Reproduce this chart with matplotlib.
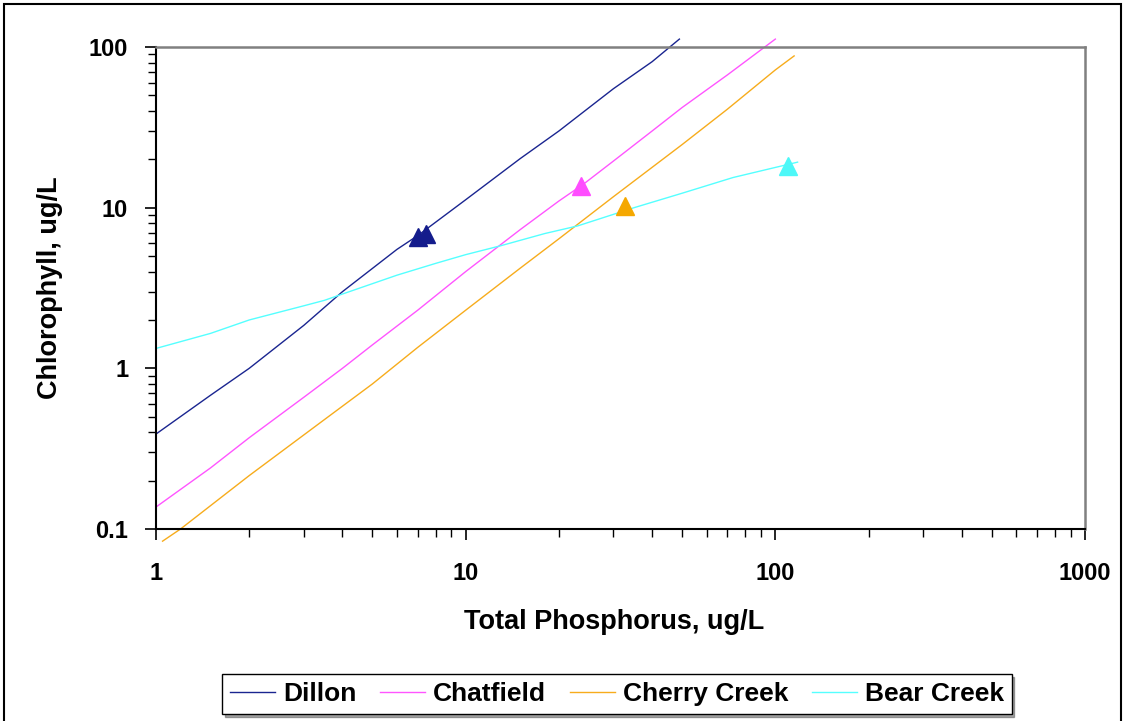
import matplotlib
matplotlib.use("Agg")
import matplotlib.pyplot as plt
from matplotlib.patches import Rectangle
from matplotlib.ticker import LogLocator, NullFormatter, FixedFormatter, FixedLocator

plt.rcParams['font.family'] = ['Liberation Sans', 'DejaVu Sans']
plt.rcParams['font.weight'] = 'bold'

# values (TP ug/L -> Chl ug/L)
dillon_tp = [1, 1.5, 2, 3, 4, 6, 7, 10, 15, 20, 30, 40, 49]
dillon_chl = [0.39, 0.68, 1.0, 1.85, 3.0, 5.5, 6.7, 11.2, 20.2, 30, 55, 81, 112]

chat_tp = [1, 1.5, 2, 3, 4, 5, 7, 10, 15, 20, 24, 30, 40, 50, 70, 100]
chat_chl = [0.137, 0.24, 0.37, 0.66, 1.0, 1.4, 2.3, 4.0, 7.3, 11, 14, 19.5, 30, 42, 67, 112]

cherry_tp = [1.05, 1.2, 2, 3.5, 5, 7, 10, 15, 20, 30, 50, 70, 100, 115]
cherry_chl = [0.084, 0.10, 0.215, 0.48, 0.80, 1.35, 2.3, 4.2, 6.4, 11.7, 24.7, 41, 72, 88]

bear_tp = [1, 1.5, 2, 3, 3.5, 4, 6, 8, 10, 13, 18, 23, 35, 50, 73, 100, 118]
bear_chl = [1.33, 1.65, 2.0, 2.45, 2.65, 2.9, 3.8, 4.5, 5.1, 5.8, 6.9, 7.7, 10, 12.3, 15.4, 17.8, 19.2]

# observed lake means (triangles)
dillon_obs_tp = [7.0, 7.45]
dillon_obs_chl = [6.6, 6.9]
chat_obs_tp = [23.6]
chat_obs_chl = [13.7]
cherry_obs_tp = [32.6]
cherry_obs_chl = [10.3]
bear_obs_tp = [110]
bear_obs_chl = [18.2]

names = ["Dillon", "Chatfield", "Cherry Creek", "Bear Creek"]
line_colors = ["#1a2590", "#ff55ff", "#f7ac1c", "#55ffff"]
marker_colors = ["#141c8c", "#ff4dff", "#f5a800", "#4df8f8"]

fig = plt.figure(figsize=(11.28, 7.21), dpi=100)
ax = fig.add_axes([156 / 1128, 1 - 529 / 721, 929 / 1128, 482 / 721])

series = [(dillon_tp, dillon_chl, dillon_obs_tp, dillon_obs_chl),
          (chat_tp, chat_chl, chat_obs_tp, chat_obs_chl),
          (cherry_tp, cherry_chl, cherry_obs_tp, cherry_obs_chl),
          (bear_tp, bear_chl, bear_obs_tp, bear_obs_chl)]

handles = []
for (tp, chl, otp, ochl), name, lc in zip(series, names, line_colors):
    h, = ax.plot(tp, chl, color=lc, lw=1.0, label=name, clip_on=False)
    handles.append(h)
for (tp, chl, otp, ochl), mc in zip(series, marker_colors):
    ax.plot(otp, ochl, linestyle="none", marker="^", ms=13, color=mc,
            markeredgecolor=mc, clip_on=False, zorder=5)

ax.set_xscale("log")
ax.set_yscale("log")
ax.set_xlim(1, 1000)
ax.set_ylim(0.1, 100)

ax.xaxis.set_major_locator(FixedLocator([1, 10, 100, 1000]))
ax.xaxis.set_major_formatter(FixedFormatter(["1", "10", "100", "1000"]))
ax.yaxis.set_major_locator(FixedLocator([0.1, 1, 10, 100]))
ax.yaxis.set_major_formatter(FixedFormatter(["0.1", "1", "10", "100"]))
for axis in (ax.xaxis, ax.yaxis):
    axis.set_minor_locator(LogLocator(base=10, subs=range(2, 10), numticks=20))
    axis.set_minor_formatter(NullFormatter())

ax.tick_params(which="major", direction="out", length=8, width=1.2, labelsize=17)
ax.tick_params(which="minor", direction="out", length=6, width=1.0)
ax.tick_params(axis="x", which="major", pad=16)
ax.tick_params(axis="y", which="major", pad=12)

for s in ("left", "bottom"):
    ax.spines[s].set_color("black")
    ax.spines[s].set_linewidth(1.5)
for s in ("top", "right"):
    ax.spines[s].set_color("#808080")
    ax.spines[s].set_linewidth(1.8)

fig.text(614 / 1128, 1 - 622 / 721, "Total Phosphorus, ug/L", ha="center", va="center",
         fontsize=19.5, fontweight="bold")
fig.text(50 / 1128, 1 - 288 / 721, "Chlorophyll, ug/L", ha="center", va="center",
         rotation=90, fontsize=19.5, fontweight="bold")

leg = fig.legend(handles=handles, labels=names, loc="center", ncol=4,
                 bbox_to_anchor=(617 / 1128, 1 - 694 / 721), fontsize=19,
                 frameon=True, fancybox=False, shadow=True, handlelength=1.7,
                 handletextpad=0.3, columnspacing=0.9, borderpad=0.3,
                 borderaxespad=0)
leg.get_frame().set_edgecolor("black")
leg.get_frame().set_linewidth(1.0)

fig.patches.append(Rectangle((4 / 1128, -0.01), 1117 / 1128, 1 - 4 / 721 + 0.01,
                             transform=fig.transFigure, fill=False,
                             edgecolor="black", linewidth=1.5))

fig.savefig("out.png", dpi=100)
